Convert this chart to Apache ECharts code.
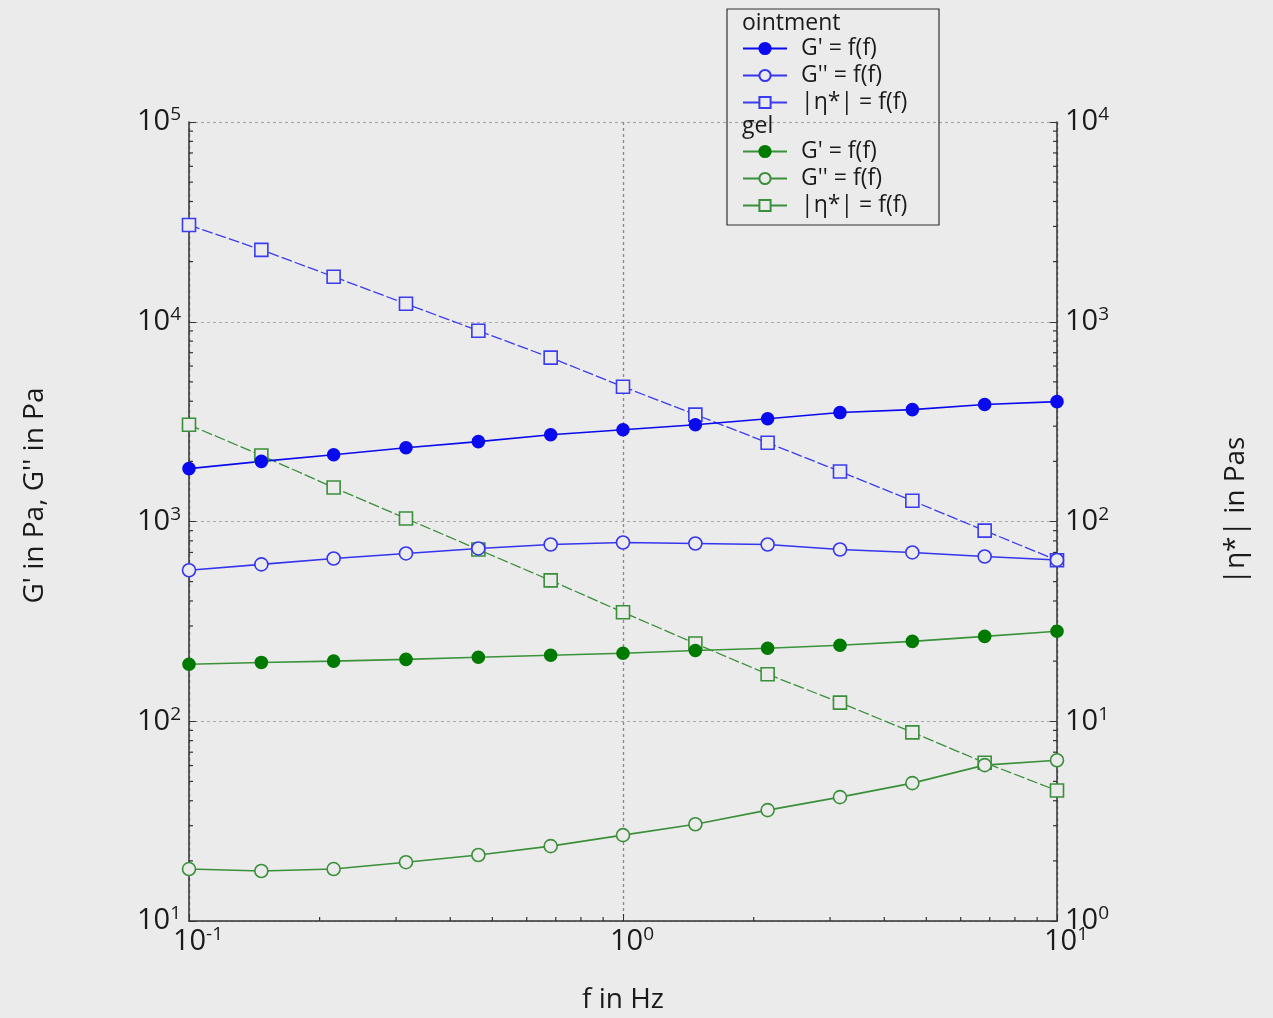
<!DOCTYPE html>
<html><head><meta charset="utf-8">
<script src="https://cdn.jsdelivr.net/npm/echarts@6/dist/echarts.min.js"></script>
<style>html,body{margin:0;padding:0;background:#ebebeb;}#c{width:1273px;height:1018px;}</style>
</head><body><div id="c"></div>
<script>
const freq = [0.1, 0.1468, 0.2154, 0.3162, 0.4642, 0.6813, 1, 1.468, 2.154, 3.162, 4.642, 6.813, 10];
const ointG1 = [1840, 2000, 2160, 2340, 2510, 2720, 2880, 3050, 3270, 3510, 3630, 3850, 3980];
const ointG2 = [570, 610, 653, 692, 733, 767, 785, 776, 767, 724, 700, 668, 642];
const ointEta = [3050, 2290, 1680, 1230, 902, 661, 473, 343, 248, 178, 127, 90, 64];
const gelG1 = [193, 197, 200, 204, 209, 214, 219, 226, 232, 240, 251, 266, 282];
const gelG2 = [18.2, 17.8, 18.2, 19.7, 21.4, 23.7, 26.9, 30.5, 35.9, 41.7, 49, 60.3, 63.8];
const gelEta = [305, 214, 148, 103.5, 72.4, 50.7, 35.1, 24.5, 17.2, 12.4, 8.8, 6.2, 4.5];
const seriesNames = ["G' = f(f)", "G'' = f(f)", "|η*| = f(f)"];
const groupNames = ["ointment", "gel"];

const BG = '#ebebeb';
const FONT = '"Open Sans", "Noto Sans", sans-serif';
const chart = echarts.init(document.getElementById('c'));

function pairs(vals){ return freq.map((f,i)=>[f, vals[i]]); }
function supLabel(v){
  const e = Math.round(Math.log10(v));
  return '{b|10}{s|' + e + '}';
}
const rich = {
  b: {fontSize: 29, fontFamily: FONT, color: '#1a1a1a'},
  s: {fontSize: 19, fontFamily: FONT, color: '#1a1a1a', verticalAlign: 'top', padding: [0,0,14,0]}
};

function mk(name, data, yIdx, symbol, color, fill, dashed, size, lineColor){
  return {
    name: name, type: 'line', data: pairs(data), yAxisIndex: yIdx,
    symbol: symbol, symbolSize: size,
    itemStyle: {color: fill, borderColor: color, borderWidth: 1.6},
    lineStyle: {color: lineColor || color, width: dashed ? 1.3 : 1.6, type: dashed ? [11,3] : 'solid'},
    emphasis: {disabled: true}, animation: false, z: 3
  };
}

function legendFor(gi, top){
  return {
    data: seriesNames.map(n => ({name: groupNames[gi] + ' ' + n})),
    orient: 'vertical', left: 742, top: top, padding: 0,
    itemWidth: 44, itemHeight: 14, itemGap: 4,
    selectedMode: false,
    lineStyle: {type: 'solid'},
    formatter: n => n.replace(groupNames[gi] + ' ', ''),
    textStyle: {fontSize: 23, lineHeight: 22, fontFamily: FONT, color: '#1a1a1a', padding: [0,0,0,9]}
  };
}

const option = {
  backgroundColor: BG,
  animation: false,
  grid: {left: 189, right: 216, top: 122, bottom: 97, outerBoundsMode: 'none', containLabel: false},
  xAxis: {
    type: 'log', logBase: 10, min: 0.1, max: 10,
    name: 'f in Hz', nameLocation: 'middle', nameGap: 65,
    nameTextStyle: {fontSize: 28, fontFamily: FONT, color: '#1a1a1a'},
    axisLine: {lineStyle: {color: '#333', width: 1.5}},
    axisTick: {inside: true, length: 7, lineStyle: {color: '#333'}},
    axisLabel: {formatter: supLabel, rich: rich, margin: 4, padding: [0,0,0,18], showMinLabel: true, showMaxLabel: true},
    splitLine: {show: true, lineStyle: {color: '#8a8a8a', type: [3,3], width: 1.4}},
    minorTick: {show: false}
  },
  yAxis: [{
    type: 'log', logBase: 10, min: 10, max: 100000, position: 'left',
    name: "G' in Pa, G'' in Pa", nameLocation: 'middle', nameGap: 140,
    nameTextStyle: {fontSize: 28, fontFamily: FONT, color: '#1a1a1a', padding: [0,0,0,52]},
    axisLine: {show: true, lineStyle: {color: '#333', width: 1.5}},
    axisTick: {show: true, inside: true, length: 7, lineStyle: {color: '#333'}},
    axisLabel: {formatter: supLabel, rich: rich, margin: 8},
    splitLine: {show: true, lineStyle: {color: '#a8a8a8', type: [3,3], width: 1.2}}
  }, {
    type: 'log', logBase: 10, min: 1, max: 10000, position: 'right',
    name: '|η*| in Pas', nameLocation: 'middle', nameGap: 165, nameRotate: 90,
    nameTextStyle: {fontSize: 28, fontFamily: FONT, color: '#1a1a1a', padding: [0,0,0,22]},
    axisLine: {show: true, lineStyle: {color: '#333', width: 1.5}},
    axisTick: {show: true, inside: true, length: 7, lineStyle: {color: '#333'}},
    axisLabel: {formatter: supLabel, rich: rich, margin: 8},
    splitLine: {show: false}
  }],
  legend: [legendFor(0, 37), legendFor(1, 140)],
  series: [
    mk(groupNames[0] + ' ' + seriesNames[2], ointEta, 1, 'rect', '#3b3bf0', BG, true, 13),
    mk(groupNames[1] + ' ' + seriesNames[2], gelEta, 1, 'rect', '#3a8f3a', BG, true, 13),
    mk(groupNames[0] + ' ' + seriesNames[0], ointG1, 0, 'circle', '#0a0aee', '#0a0aee', false, 12),
    mk(groupNames[0] + ' ' + seriesNames[1], ointG2, 0, 'circle', '#3535ee', BG, false, 13),
    mk(groupNames[1] + ' ' + seriesNames[0], gelG1, 0, 'circle', '#007a00', '#007a00', false, 12, '#3a933a'),
    mk(groupNames[1] + ' ' + seriesNames[1], gelG2, 0, 'circle', '#3a8f3a', BG, false, 13)
  ]
};
chart.setOption(option);

// legend box, group headers and log minor ticks
const g = [];
g.push({type: 'rect', shape: {x: 727, y: 9, width: 212, height: 216}, style: {fill: 'none', stroke: '#333', lineWidth: 1.2}, z: 10});
g.push({type: 'text', x: 742, y: 23, style: {text: groupNames[0], fontSize: 23, fontFamily: FONT, fill: '#1a1a1a', textVerticalAlign: 'middle'}, z: 10});
g.push({type: 'text', x: 742, y: 126, style: {text: groupNames[1], fontSize: 23, fontFamily: FONT, fill: '#1a1a1a', textVerticalAlign: 'middle'}, z: 10});
const x0 = chart.convertToPixel({xAxisIndex: 0}, 0.1);
const x1 = chart.convertToPixel({xAxisIndex: 0}, 10);
const yb = chart.convertToPixel({yAxisIndex: 0}, 10);
const tickStyle = {stroke: '#333', lineWidth: 1.2};
for (let d = 1; d <= 4; d++) {
  for (let m = 2; m <= 9; m++) {
    const yl = chart.convertToPixel({yAxisIndex: 0}, m * Math.pow(10, d));
    g.push({type: 'line', shape: {x1: x0, y1: yl, x2: x0 + 4, y2: yl}, style: tickStyle, silent: true});
    const yr = chart.convertToPixel({yAxisIndex: 1}, m * Math.pow(10, d - 1));
    g.push({type: 'line', shape: {x1: x1, y1: yr, x2: x1 - 4, y2: yr}, style: tickStyle, silent: true});
  }
}
for (let d = -1; d <= 0; d++) {
  for (let m = 2; m <= 9; m++) {
    const xx = chart.convertToPixel({xAxisIndex: 0}, m * Math.pow(10, d));
    g.push({type: 'line', shape: {x1: xx, y1: yb, x2: xx, y2: yb - 4}, style: tickStyle, silent: true});
  }
}
chart.setOption({graphic: g});
</script></body></html>
